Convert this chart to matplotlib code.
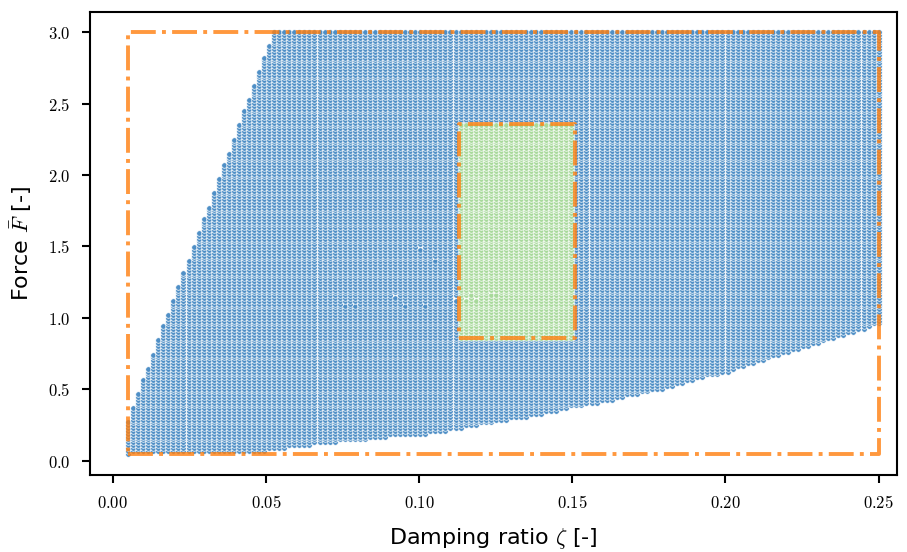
import numpy as np
import matplotlib.pyplot as plt
from matplotlib.ticker import FuncFormatter

plt.rcParams['mathtext.fontset'] = 'cm'
plt.rcParams['font.family'] = ['DejaVu Sans']

# parameter grid of the sweep
zeta_grid = np.linspace(0.005, 0.25, 150)
force_grid = np.linspace(0.05, 3.0, 150)

# feasible region limits (upper line, lower curve)
upper_zeta = [0.0, 0.0525]
upper_force = [0.0, 3.0]
lower_zeta = [0.005, 0.05, 0.06, 0.07, 0.078, 0.086, 0.092, 0.107, 0.123,
              0.14, 0.156, 0.172, 0.187, 0.202, 0.218, 0.234, 0.25]
lower_force = [0.05, 0.07, 0.10, 0.12, 0.14, 0.155, 0.175, 0.195, 0.265,
               0.325, 0.395, 0.465, 0.545, 0.63, 0.745, 0.845, 0.955]

# runs that did not finish
failed_zeta = [0.0755, 0.0788, 0.0922, 0.0954, 0.102, 0.1003, 0.1052,
               0.1118, 0.115, 0.1167, 0.119, 0.123, 0.125]
failed_force = [1.105, 1.105, 1.168, 1.105, 1.105, 1.503, 1.42,
                1.14, 1.14, 1.18, 1.14, 1.18, 1.18]

# design space and selected sub-domain
outer_zeta = [0.005, 0.25]
outer_force = [0.05, 3.0]
inner_zeta = [0.113, 0.151]
inner_force = [0.86, 2.36]

Z, F = np.meshgrid(zeta_grid, force_grid)
Z = Z.ravel()
F = F.ravel()
f_top = np.interp(Z, upper_zeta, upper_force, right=10.0)
f_bot = np.interp(Z, lower_zeta, lower_force)
ok = (F <= f_top + 1e-9) & (F >= f_bot - 1e-9)
dz = zeta_grid[1] - zeta_grid[0]
df = force_grid[1] - force_grid[0]
for zf, ff in zip(failed_zeta, failed_force):
    ok &= ~((np.abs(Z - zf) < dz / 2) & (np.abs(F - ff) < df / 2))

inside = ((Z >= inner_zeta[0]) & (Z <= inner_zeta[1]) &
          (F >= inner_force[0]) & (F <= inner_force[1]))

fig, ax = plt.subplots(figsize=(9.07, 5.52), dpi=100)
fig.subplots_adjust(left=0.099, right=0.989, bottom=0.14, top=0.978)

ax.scatter(Z[ok & ~inside], F[ok & ~inside], s=16, c='#4f8fc6',
           edgecolors='white', linewidths=0.5, zorder=2)
ax.scatter(Z[ok & inside], F[ok & inside], s=16, c='#a8d99b',
           edgecolors='white', linewidths=0.5, zorder=3)


def rect(ax, xs, ys):
    ax.plot([xs[0], xs[1], xs[1], xs[0], xs[0]],
            [ys[0], ys[0], ys[1], ys[1], ys[0]],
            ls='-.', lw=2.8, color='#ff7f0e', alpha=0.8, zorder=4)


rect(ax, outer_zeta, outer_force)
rect(ax, inner_zeta, inner_force)

ax.set_xlim(-0.0075, 0.256)
ax.set_ylim(-0.098, 3.14)
ax.set_xticks(np.arange(0, 0.251, 0.05))
ax.set_yticks(np.arange(0, 3.01, 0.5))
ax.xaxis.set_major_formatter(FuncFormatter(lambda v, p: f'${v:.2f}$'))
ax.yaxis.set_major_formatter(FuncFormatter(lambda v, p: f'${v:.1f}$'))
ax.tick_params(labelsize=12, length=6, width=1.5, pad=8)
for sp in ax.spines.values():
    sp.set_linewidth(1.5)

ax.set_xlabel(r'Damping ratio $\zeta$ [-]', fontsize=16, labelpad=10)
ax.set_ylabel(r'Force $\bar{F}$ [-]', fontsize=16, labelpad=10)

fig.savefig('out.png', dpi=100)
